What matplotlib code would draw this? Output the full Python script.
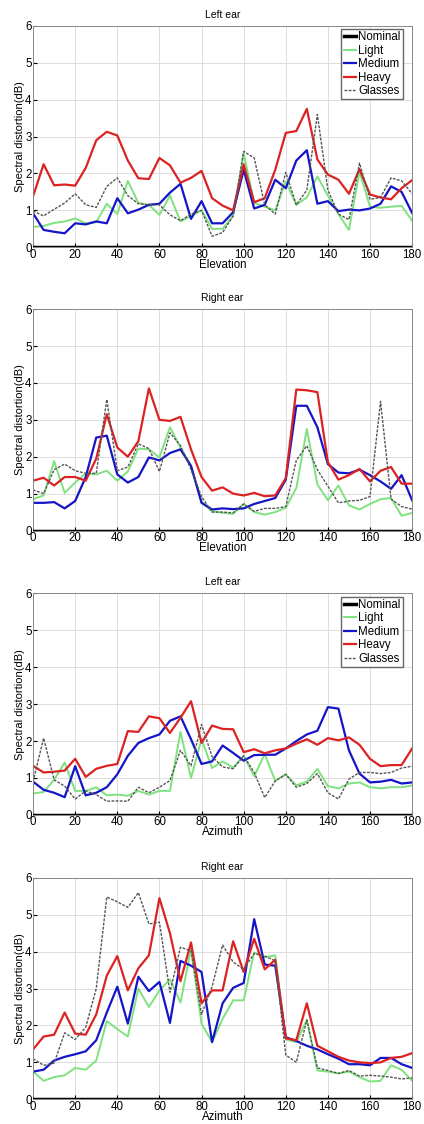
import numpy as np
import matplotlib; matplotlib.use("Agg")
import matplotlib.pyplot as plt

angles = np.arange(0, 181, 5)

# Left ear, elevation
le_light = [0.55,0.58,0.66,0.70,0.78,0.65,0.68,1.18,0.90,1.80,1.20,1.15,0.88,1.40,0.70,0.85,1.00,0.50,0.50,0.85,
            2.55,1.20,1.10,1.00,1.78,1.15,1.35,1.92,1.40,0.90,0.47,2.05,1.10,1.07,1.10,1.12,0.72]
le_medium = [0.92,0.47,0.42,0.38,0.65,0.62,0.70,0.65,1.33,0.92,1.02,1.15,1.18,1.48,1.72,0.77,1.25,0.65,0.65,0.95,
             2.10,1.05,1.15,1.83,1.60,2.35,2.63,1.18,1.25,0.98,1.02,1.00,1.05,1.18,1.65,1.50,0.93]
le_heavy = [1.38,2.25,1.68,1.70,1.67,2.15,2.90,3.13,3.03,2.35,1.87,1.85,2.42,2.22,1.75,1.88,2.07,1.33,1.13,1.00,
            2.25,1.22,1.33,2.10,3.10,3.15,3.75,2.38,1.97,1.83,1.45,2.12,1.43,1.35,1.30,1.60,1.82]
le_glasses = [0.98,0.85,1.03,1.20,1.45,1.15,1.08,1.65,1.88,1.40,1.18,1.15,1.15,0.88,0.72,0.90,1.00,0.30,0.40,0.85,
              2.60,2.42,1.15,0.90,2.03,1.15,1.55,3.60,1.55,0.90,0.75,2.28,1.30,1.35,1.88,1.80,1.45]

# Right ear, elevation
re_light = [0.85,0.95,1.88,1.02,1.30,1.55,1.52,1.62,1.35,1.60,2.22,2.20,1.98,2.80,2.25,1.75,0.78,0.52,0.48,0.45,
            0.72,0.50,0.43,0.50,0.62,1.15,2.75,1.25,0.82,1.22,0.68,0.57,0.72,0.85,0.88,0.40,0.48]
re_medium = [0.75,0.75,0.77,0.60,0.80,1.45,2.52,2.57,1.52,1.30,1.45,1.98,1.90,2.10,2.20,1.75,0.75,0.57,0.60,0.58,
             0.60,0.72,0.80,0.88,1.38,3.38,3.38,2.80,1.80,1.57,1.55,1.65,1.50,1.33,1.13,1.50,0.82]
re_heavy = [1.35,1.43,1.22,1.45,1.45,1.35,1.95,3.15,2.25,2.00,2.42,3.85,3.00,2.97,3.08,2.20,1.45,1.08,1.17,1.00,
            0.95,1.02,0.93,0.95,1.42,3.82,3.80,3.75,1.85,1.38,1.50,1.67,1.33,1.62,1.72,1.27,1.27]
re_glasses = [1.10,1.00,1.65,1.80,1.62,1.55,1.55,3.55,1.62,1.72,2.35,2.22,1.60,2.65,2.30,1.65,0.92,0.50,0.50,0.48,
              0.72,0.52,0.60,0.60,0.65,1.90,2.30,1.65,1.20,0.75,0.80,0.82,0.92,3.50,0.85,0.65,0.58]

# Left ear, azimuth
la_light = [0.58,0.62,0.95,1.42,0.65,0.65,0.75,0.53,0.55,0.52,0.65,0.55,0.65,0.65,2.25,1.00,2.05,1.27,1.45,1.28,
            1.60,1.05,1.65,0.92,1.10,0.80,0.90,1.25,0.78,0.72,0.85,0.88,0.75,0.72,0.75,0.75,0.80]
la_medium = [0.90,0.68,0.60,0.48,1.32,0.53,0.60,0.75,1.10,1.60,1.95,2.08,2.18,2.55,2.67,2.05,1.38,1.45,1.88,1.68,
             1.47,1.62,1.63,1.63,1.80,2.00,2.18,2.28,2.92,2.88,1.75,1.12,0.88,0.90,0.95,0.85,0.88]
la_heavy = [1.33,1.15,1.17,1.20,1.52,1.03,1.25,1.33,1.38,2.27,2.25,2.67,2.62,2.22,2.63,3.08,1.95,2.42,2.33,2.32,
            1.70,1.78,1.67,1.75,1.80,1.93,2.05,1.90,2.08,2.02,2.10,1.90,1.52,1.32,1.35,1.35,1.80]
la_glasses = [0.90,2.08,0.95,0.78,0.43,0.65,0.55,0.37,0.38,0.37,0.75,0.60,0.75,0.93,1.75,1.33,2.45,1.58,1.30,1.25,
              1.60,1.15,0.47,0.92,1.10,0.75,0.85,1.12,0.60,0.43,0.97,1.15,1.15,1.12,1.15,1.27,1.32]

# Right ear, azimuth
ra_light = [0.75,0.50,0.60,0.65,0.85,0.80,1.05,2.12,1.90,1.70,3.00,2.50,2.95,3.25,2.62,4.08,2.05,1.55,2.18,2.68,
            2.68,3.98,3.85,3.90,1.62,1.55,2.15,0.78,0.75,0.70,0.75,0.60,0.48,0.50,0.92,0.80,0.50]
ra_medium = [0.75,0.80,1.05,1.15,1.22,1.30,1.60,2.35,3.05,2.05,3.32,2.93,3.18,2.07,3.75,3.62,3.45,1.55,2.60,3.02,
             3.15,4.88,3.65,3.62,1.68,1.58,1.45,1.35,1.22,1.10,0.95,0.95,0.92,1.12,1.12,0.95,0.85]
ra_heavy = [1.35,1.70,1.75,2.35,1.78,1.75,2.30,3.35,3.88,2.95,3.55,3.90,5.45,4.50,3.20,4.25,2.60,2.95,2.95,4.28,
            3.45,4.35,3.52,3.78,1.65,1.60,2.60,1.45,1.30,1.15,1.05,1.00,0.98,1.00,1.12,1.15,1.25]
ra_glasses = [1.10,0.92,0.98,1.80,1.62,1.95,3.00,5.48,5.35,5.20,5.60,4.75,4.80,2.90,4.12,4.02,2.30,3.05,4.18,3.72,
              3.52,3.95,3.88,3.75,1.20,1.00,2.15,0.85,0.78,0.70,0.78,0.63,0.65,0.63,0.60,0.55,0.58]

panels = [
    ("Left ear", "Elevation", le_light, le_medium, le_heavy, le_glasses, True),
    ("Right ear", "Elevation", re_light, re_medium, re_heavy, re_glasses, False),
    ("Left ear", "Azimuth", la_light, la_medium, la_heavy, la_glasses, True),
    ("Right ear", "Azimuth", ra_light, ra_medium, ra_heavy, ra_glasses, False),
]

plt.rcParams.update({"font.family": "Liberation Sans", "font.size": 8})

fig = plt.figure(figsize=(4.24, 11.24), dpi=100)
tops = [0.977, 0.725, 0.472, 0.219]
h = 0.197
for top, (title, xlab, light, med, heavy, glas, leg) in zip(tops, panels):
    ax = fig.add_axes([0.078, top - h, 0.894, h])
    ax.plot(angles, np.zeros_like(angles), color="black", lw=2.5, label="Nominal", zorder=5)
    ax.plot(angles, light, color="#7ee27e", lw=1.4, label="Light")
    ax.plot(angles, med, color="#1414c8", lw=1.6, label="Medium")
    ax.plot(angles, heavy, color="#dc2222", lw=1.6, label="Heavy")
    ax.plot(angles, glas, color="#555555", lw=1.0, ls=(0, (2, 1)), label="Glasses")
    ax.set_xlim(0, 180); ax.set_ylim(0, 6)
    ax.set_xticks(range(0, 181, 20)); ax.set_yticks(range(0, 7))
    ax.grid(True, color="#dddddd", lw=0.7)
    ax.tick_params(direction="in", length=3, pad=1, labelsize=8.3)
    for s in ax.spines.values():
        s.set_color("#888888"); s.set_linewidth(0.7)
    ax.set_title(title, fontsize=7.5, pad=6)
    ax.set_xlabel(xlab, fontsize=8.3, labelpad=-1.5)
    ax.set_ylabel("Spectral distortion(dB)", fontsize=8, labelpad=0)
    if leg:
        ax.legend(loc="upper right", bbox_to_anchor=(0.975, 0.985), fontsize=8.3,
                  handlelength=1.1, handletextpad=0.15, labelspacing=0.12, borderpad=0.2,
                  fancybox=False, edgecolor="#666666", framealpha=1, borderaxespad=0)

fig.savefig("out.png", dpi=100)
